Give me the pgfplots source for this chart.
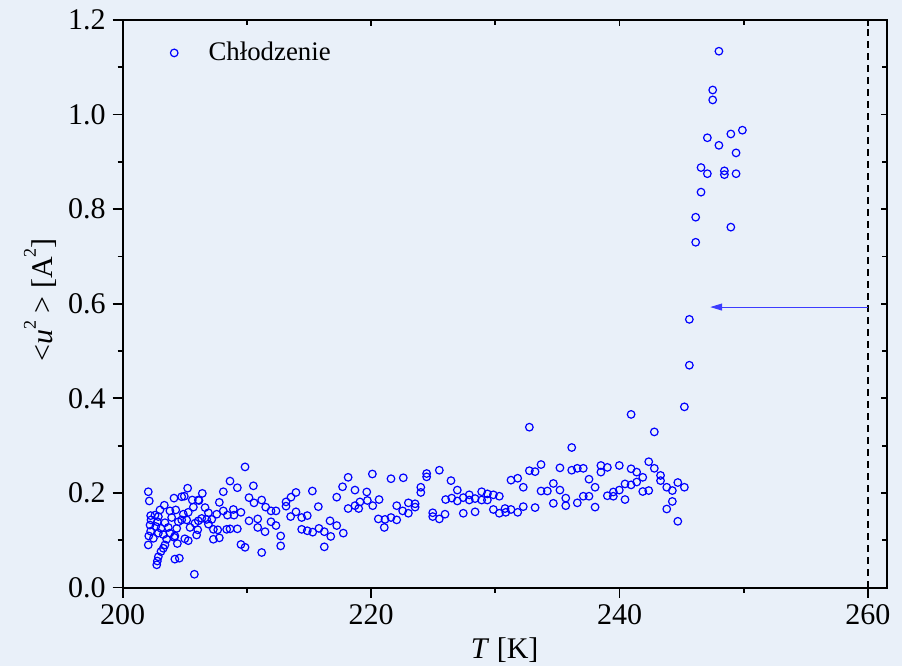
\documentclass[border=0pt]{standalone}
\usepackage{pgfplots}
\pgfplotsset{compat=1.18}
\usepackage{fontspec}
\setmainfont{Liberation Serif}
\usetikzlibrary{arrows.meta}
\definecolor{bgc}{RGB}{233,240,249}
\definecolor{arrc}{RGB}{60,60,255}
\pgfplotstableread{
T u
202.06 0.2025
202.14 0.183
205.23 0.210
204.13 0.189
204.75 0.192
204.96 0.193
205.6 0.185
206.09 0.185
203.35 0.174
203.0 0.164
203.8 0.162
204.27 0.164
202.25 0.152
202.6 0.153
202.87 0.150
204.88 0.155
205.28 0.159
205.69 0.170
203.94 0.148
204.75 0.143
205.15 0.143
202.28 0.143
202.79 0.139
203.4 0.137
204.48 0.139
205.82 0.136
206.09 0.141
202.2 0.132
202.66 0.129
203.08 0.125
203.67 0.127
204.35 0.125
205.42 0.127
206.04 0.122
202.25 0.119
202.87 0.115
203.27 0.112
203.8 0.115
204.2 0.109
205.0 0.103
205.28 0.099
202.1 0.109
202.47 0.104
203.54 0.102
204.15 0.106
205.95 0.111
202.06 0.090
203.4 0.090
204.4 0.093
203.27 0.083
203.08 0.076
202.87 0.065
202.79 0.056
202.74 0.048
204.2 0.060
204.56 0.062
205.77 0.028
209.85 0.255
208.64 0.225
209.23 0.211
210.52 0.215
208.1 0.2025
206.41 0.199
206.14 0.184
210.17 0.190
210.57 0.179
211.19 0.185
207.78 0.180
206.63 0.169
206.9 0.158
211.51 0.170
208.1 0.162
207.57 0.155
208.43 0.153
208.91 0.165
208.96 0.153
209.52 0.159
206.36 0.146
206.76 0.144
207.17 0.144
206.9 0.134
207.3 0.123
207.65 0.122
208.37 0.123
208.64 0.124
209.23 0.124
210.17 0.141
210.87 0.145
210.87 0.127
211.46 0.118
207.3 0.102
207.78 0.105
209.52 0.091
209.85 0.085
211.19 0.074
218.15 0.233
217.7 0.213
218.7 0.206
217.23 0.191
215.27 0.204
213.95 0.201
213.55 0.191
213.15 0.181
213.15 0.172
215.75 0.171
211.94 0.162
212.34 0.162
213.95 0.160
213.52 0.150
214.41 0.148
214.86 0.152
218.15 0.167
218.7 0.173
219.1 0.181
219.0 0.167
211.94 0.139
212.34 0.131
216.69 0.141
217.23 0.131
214.41 0.123
214.86 0.120
215.3 0.117
215.8 0.125
216.23 0.118
216.75 0.108
217.76 0.115
212.72 0.109
212.72 0.088
216.23 0.086
220.1 0.240
221.6 0.230
222.59 0.232
224.47 0.241
224.47 0.234
225.49 0.248
226.43 0.226
224.0 0.212
224.0 0.201
219.65 0.202
219.7 0.184
220.64 0.186
220.13 0.173
222.06 0.173
223.0 0.179
223.54 0.177
223.54 0.170
222.54 0.162
223.0 0.157
226.0 0.186
226.49 0.189
224.96 0.158
224.96 0.150
225.49 0.145
225.95 0.155
220.58 0.145
221.12 0.144
221.6 0.148
222.06 0.143
221.06 0.127
232.74 0.339
233.68 0.260
232.74 0.247
233.2 0.245
231.26 0.227
231.8 0.231
232.25 0.212
233.68 0.204
234.19 0.204
226.94 0.206
226.94 0.183
227.42 0.190
227.9 0.196
227.9 0.185
228.37 0.188
228.9 0.2025
229.36 0.198
229.84 0.196
230.32 0.193
228.9 0.185
229.36 0.185
229.84 0.165
230.32 0.157
230.78 0.167
230.84 0.159
231.26 0.165
231.8 0.159
232.25 0.171
233.2 0.169
227.42 0.157
228.37 0.160
240.93 0.366
245.22 0.382
242.8 0.329
236.15 0.296
235.2 0.253
236.15 0.248
236.6 0.252
237.08 0.252
238.5 0.258
238.5 0.244
239.02 0.254
239.98 0.258
240.93 0.251
241.38 0.244
242.35 0.266
242.8 0.252
243.3 0.237
243.3 0.226
241.87 0.233
241.38 0.223
240.93 0.217
240.44 0.219
239.98 0.206
239.5 0.202
239.5 0.193
239.02 0.194
237.54 0.229
238.03 0.212
237.54 0.193
237.08 0.193
236.6 0.179
238.03 0.170
240.44 0.186
241.87 0.203
242.35 0.205
243.8 0.212
244.25 0.205
244.69 0.222
245.22 0.212
244.25 0.182
243.8 0.166
244.69 0.140
234.67 0.220
235.2 0.206
234.67 0.178
235.67 0.189
235.67 0.173
248.0 1.134
247.5 1.052
247.5 1.031
249.89 0.967
248.96 0.959
247.07 0.951
248.0 0.935
249.38 0.919
246.56 0.888
247.07 0.875
248.44 0.881
248.44 0.873
249.38 0.875
246.56 0.836
246.13 0.783
248.96 0.762
246.13 0.730
245.62 0.567
245.62 0.470
}\datatable
\begin{document}
\begin{tikzpicture}
\fill[bgc] (-61.35pt,-39.25pt) rectangle (389.65pt,293.75pt);
\begin{axis}[
  scale only axis,
  width=381.95pt, height=283.75pt,
  at={(0,0)}, anchor=south west,
  xmin=200, xmax=261.5, ymin=0, ymax=1.2,
  xtick={200,220,240,260}, minor xtick={210,230,250},
  ytick={0,0.2,...,1.2}, minor ytick={0.1,0.3,0.5,0.7,0.9,1.1},
  xtick pos=left, ytick pos=left,
  tick align=outside,
  major tick length=5pt, minor tick length=2.5pt,
  every tick/.style={black, line width=0.9pt},
  axis line style={line width=1pt},
  /pgf/number format/assume math mode=true,
  ticklabel style={font=\fontsize{15}{18}\selectfont},
  yticklabel style={/pgf/number format/.cd, fixed, fixed zerofill, precision=1},
  xticklabel style={/pgf/number format/.cd, fixed, precision=0, 1000 sep={}},
  xlabel={\textit{T} [K]},
  ylabel={\textless\textit{u}\raisebox{0.55em}{\fontsize{9}{10}\selectfont 2} \textgreater{} [A\raisebox{0.55em}{\fontsize{9}{10}\selectfont 2}]},
  label style={font=\fontsize{15}{18}\selectfont},
  xlabel style={at={(axis description cs:0.5,-0.110)}, anchor=center},
  ylabel style={at={(axis description cs:-0.108,0.507)}, anchor=center, rotate=0},
  legend style={draw=none, fill=none, at={(axis description cs:0.052,0.942)}, anchor=west, font=\fontsize{13.4}{16}\selectfont},
  legend cell align=left,
  legend image code/.code={\draw[#1] plot coordinates {(0pt,0pt)}; \path (-2.5pt,0pt) (15pt,0pt);},
]
\addplot[only marks, mark=o, mark size=1.9pt, blue, mark options={line width=0.6pt}] table[x=T, y=u] {\datatable};
\addlegendentry{Chłodzenie}
\addplot[forget plot, black, line width=0.6pt, dash pattern=on 3.5pt off 2.5pt] coordinates {(260,0) (260,1.2)};
\addplot[forget plot, arrc, line width=0.5pt, -{Triangle[length=6pt,width=3.5pt]}] coordinates {(260,0.593) (247.3,0.593)};
\end{axis}
\begin{axis}[
  scale only axis,
  width=381.95pt, height=283.75pt,
  at={(0,0)}, anchor=south west,
  xmin=200, xmax=261.5, ymin=0, ymax=1.2,
  xtick={200,220,240,260}, minor xtick={210,230,250},
  ytick={0,0.2,...,1.2}, minor ytick={0.1,0.3,0.5,0.7,0.9,1.1},
  xtick pos=right, ytick pos=right,
  tick align=inside,
  major tick length=3pt, minor tick length=2.5pt,
  every tick/.style={black, line width=0.9pt},
  xticklabels={}, yticklabels={},
  axis line style={draw=none},
]
\end{axis}
\pgfresetboundingbox
\useasboundingbox (-61.35pt,-39.25pt) rectangle (389.65pt,293.75pt);
\end{tikzpicture}
\end{document}
